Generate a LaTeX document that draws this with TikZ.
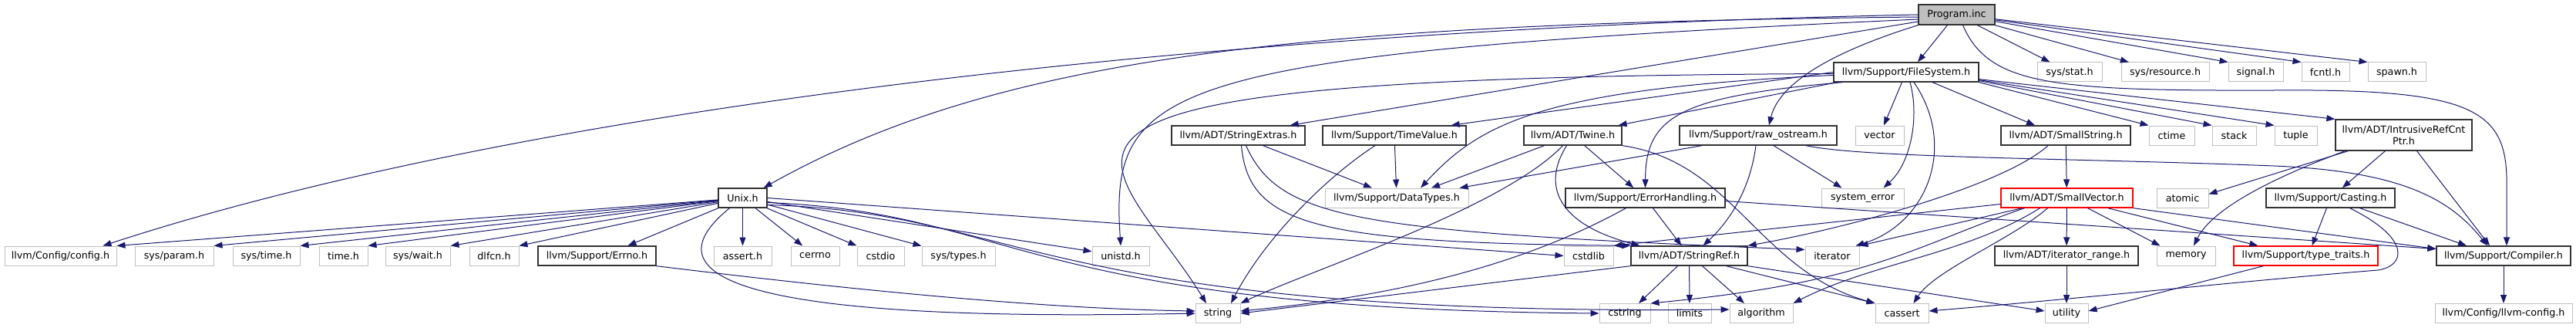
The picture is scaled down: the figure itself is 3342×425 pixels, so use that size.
\documentclass[tikz,border=0pt]{standalone}
\usepackage{fontspec}
\setmainfont{DejaVu Sans}
\usepackage{tikz}
\usetikzlibrary{arrows.meta}
\definecolor{edgeblue}{RGB}{25,25,112}
\definecolor{boxgray}{RGB}{191,191,191}

\begin{document}
\begin{tikzpicture}[x=1pt, y=-1pt, >={Triangle[length=11pt, width=8pt]},
  box/.style={rectangle, minimum height=25, inner sep=0pt, align=center, font=\fontsize{12.7}{15}\selectfont},
  ext/.style={box, draw=boxgray, line width=1pt},
  doc/.style={box, draw=black!80, line width=1.3pt},
  trunc/.style={box, draw=red, line width=1.3pt},
  root/.style={box, draw=black!80, fill=boxgray, line width=1.3pt, minimum height=26},
  dep/.style={->, draw=edgeblue, line width=1pt}]
  \useasboundingbox (0,0) rectangle (3342,425);

  \node[root, minimum width=99] (prog) at (2538.5,19) {Program.inc};

  \node[doc, minimum width=188] (fs) at (2473,93.5) {llvm/Support/FileSystem.h};
  \node[ext, minimum width=84] (sysstat) at (2685,93.5) {sys/stat.h};
  \node[ext, minimum width=114] (sysres) at (2809,93.5) {sys/resource.h};
  \node[ext, minimum width=71] (signal) at (2926.5,93.5) {signal.h};
  \node[ext, minimum width=62] (fcntl) at (3017,93.5) {fcntl.h};
  \node[ext, minimum width=75] (spawn) at (3109.5,93.5) {spawn.h};

  \node[doc, minimum width=173] (strext) at (1606.5,175.5) {llvm/ADT/StringExtras.h};
  \node[doc, minimum width=186] (timeval) at (1809,175.5) {llvm/Support/TimeValue.h};
  \node[doc, minimum width=127] (twine) at (2040.5,175.5) {llvm/ADT/Twine.h};
  \node[doc, minimum width=204] (rawos) at (2281,175.5) {llvm/Support/raw\_ostream.h};
  \node[ext, minimum width=63] (vector) at (2438.5,175.5) {vector};
  \node[doc, minimum width=168] (smallstr) at (2680,175.5) {llvm/ADT/SmallString.h};
  \node[ext, minimum width=59] (ctime) at (2817.5,175.5) {ctime};
  \node[ext, minimum width=57] (stack) at (2898.5,175.5) {stack};
  \node[ext, minimum width=55] (tuple) at (2978.5,175.5) {tuple};
  \node[doc, minimum width=177, minimum height=40] (irc) at (3118.5,175) {llvm/ADT/IntrusiveRefCnt\\Ptr.h};

  \node[doc, minimum width=63] (unixh) at (963.5,256.5) {Unix.h};
  \node[ext, minimum width=186] (datatypes) at (1812,256.5) {llvm/Support/DataTypes.h};
  \node[doc, minimum width=207] (errh) at (2134.5,256.5) {llvm/Support/ErrorHandling.h};
  \node[ext, minimum width=107] (syserr) at (2416.5,256.5) {system\_error};
  \node[trunc, minimum width=171] (smallvec) at (2681.5,256.5) {llvm/ADT/SmallVector.h};
  \node[ext, minimum width=67] (atomic) at (2831.5,256.5) {atomic};
  \node[doc, minimum width=167] (casting) at (3023.5,256.5) {llvm/Support/Casting.h};

  \node[ext, minimum width=145] (config) at (78.5,331.5) {llvm/Config/config.h};
  \node[ext, minimum width=102] (param) at (226,331.5) {sys/param.h};
  \node[ext, minimum width=87] (systime) at (345.5,331.5) {sys/time.h};
  \node[ext, minimum width=63] (timeh) at (445.5,331.5) {time.h};
  \node[ext, minimum width=84] (wait) at (542,331.5) {sys/wait.h};
  \node[ext, minimum width=64] (dlfcn) at (641,331.5) {dlfcn.h};
  \node[doc, minimum width=153] (errno) at (774.5,331.5) {llvm/Support/Errno.h};
  \node[ext, minimum width=75] (asserth) at (963.5,331.5) {assert.h};
  \node[ext, minimum width=63] (cerrno) at (1057.5,331.5) {cerrno};
  \node[ext, minimum width=61] (cstdio) at (1142.5,331.5) {cstdio};
  \node[ext, minimum width=95] (systypes) at (1243.5,331.5) {sys/types.h};
  \node[ext, minimum width=74] (unistd) at (1454,331.5) {unistd.h};
  \node[ext, minimum width=64] (cstdlib) at (2061,331.5) {cstdlib};
  \node[doc, minimum width=151] (strref) at (2191.5,331.5) {llvm/ADT/StringRef.h};
  \node[ext, minimum width=70] (iterator) at (2377,331.5) {iterator};
  \node[doc, minimum width=186] (itrange) at (2681,331.5) {llvm/ADT/iterator\_range.h};
  \node[ext, minimum width=76] (memory) at (2836,331.5) {memory};
  \node[trunc, minimum width=187] (typetr) at (2991.5,331.5) {llvm/Support/type\_traits.h};
  \node[doc, minimum width=174] (compiler) at (3248,331.5) {llvm/Support/Compiler.h};

  \node[ext, minimum width=58] (string) at (1580,406) {string};
  \node[ext, minimum width=66] (cstring) at (2108,406) {cstring};
  \node[ext, minimum width=56] (limits) at (2192,406) {limits};
  \node[ext, minimum width=82] (algorithm) at (2285,406) {algorithm};
  \node[ext, minimum width=69] (cassert) at (2467.5,406) {cassert};
  \node[ext, minimum width=56] (utility) at (2681,406) {utility};
  \node[ext, minimum width=178] (llvmcfg) at (3248,406) {llvm/Config/llvm-config.h};

  \draw[dep] (prog.west) .. controls (1500,40) and (650,150) .. ([xshift=55pt]config.north);
  \draw[dep] ([yshift=-3pt]prog.west) .. controls (1700,30) and (1300,70) .. ([xshift=-5pt]unixh.north east);
  \draw[dep] ([yshift=-6pt]prog.west) .. controls (1500,70) and (1440,110) .. (unistd.north);
  \draw[dep] ([yshift=-9pt]prog.west) -- ([xshift=-20pt]strext.north east);
  \draw[dep] ([xshift=-12pt]prog.south) -- ([xshift=15pt]fs.north);
  \draw[dep] (prog.south west) .. controls (2400,60) and (2310,100) .. ([xshift=14pt]rawos.north);
  \draw[dep] (prog) -- (sysstat);
  \draw[dep] (prog) -- (sysres);
  \draw[dep] (prog) -- (signal.north west);
  \draw[dep] (prog) -- (fcntl.north west);
  \draw[dep] (prog) -- (spawn.north west);
  \draw[dep] ([xshift=8pt]prog.south) .. controls (2580,110) and (2660,118) .. (2950,117)
    .. controls (3200,115) and (3250,140) .. (3252,230) -- ([xshift=4pt]compiler.north);

  \draw[dep] (unixh) -- (config.north east);
  \draw[dep] (unixh) -- (param.north east);
  \draw[dep] (unixh) -- (systime.north east);
  \draw[dep] (unixh) -- (timeh.north east);
  \draw[dep] (unixh) -- (wait.north east);
  \draw[dep] (unixh) -- (dlfcn.north east);
  \draw[dep] (unixh) -- ([xshift=40pt]errno.north);
  \draw[dep] (unixh) -- (asserth);
  \draw[dep] (unixh) -- (cerrno);
  \draw[dep] (unixh) -- (cstdio);
  \draw[dep] (unixh) -- (systypes);
  \draw[dep] (unixh) -- (unistd);
  \draw[dep] (unixh.east) -- (cstdlib.west);
  \draw[dep] ([xshift=-17pt]unixh.south) .. controls (860,340) and (880,420) .. (string.west);
  \draw[dep] ([yshift=-6pt]unixh.east) .. controls (1320,275) and (1320,400) .. (cstring.west);
  \draw[dep] ([yshift=-9pt]unixh.east) .. controls (1330,275) and (1340,410) .. ([yshift=5pt]algorithm.west);
  \draw[dep] (errno.south east) .. controls (1100,375) and (1350,400) .. ([yshift=3pt]string.west);

  \draw[dep] ([xshift=5pt]fs.south west) -- ([xshift=-5pt]twine.north east);
  \draw[dep] (fs.west) -- ([xshift=-20pt]timeval.north east);
  \draw[dep] ([yshift=-4pt]fs.west) .. controls (2000,115) and (1920,160) .. ([xshift=31pt]datatypes.north);
  \draw[dep] ([yshift=-2pt]fs.west) .. controls (1200,100) and (1440,190) .. ([xshift=-15pt]string.north);
  \draw[dep] ([xshift=12pt]fs.south west) .. controls (2180,125) and (2135,150) .. (errh.north);
  \draw[dep] (fs) -- (vector);
  \draw[dep] ([xshift=5pt]fs.south) .. controls (2490,150) and (2480,210) .. ([xshift=27pt]syserr.north);
  \draw[dep] ([xshift=10pt]fs.south) .. controls (2540,190) and (2500,290) .. ([xshift=-5pt]iterator.north east);
  \draw[dep] ([xshift=34pt]fs.south) -- ([xshift=-40pt]smallstr.north);
  \draw[dep] (fs.south east) -- (ctime.north west);
  \draw[dep] ([yshift=2pt]fs.south east) -- (stack.north west);
  \draw[dep] ([yshift=3pt]fs.south east) -- (tuple.north west);
  \draw[dep] ([yshift=4pt]fs.south east) -- (irc.north west);

  \draw[dep] ([xshift=32pt]strext.south) -- ([xshift=-32pt]datatypes.north);
  \draw[dep] ([xshift=4pt]strext.south) .. controls (1620,290) and (1700,315) .. (strref.north west);
  \draw[dep] ([xshift=10pt]strext.south) .. controls (1660,285) and (1760,300) .. ([yshift=8pt]iterator.west);

  \draw[dep] (timeval) -- (datatypes);
  \draw[dep] ([xshift=-25pt]timeval.south) .. controls (1720,230) and (1640,310) .. ([xshift=17pt]string.north);

  \draw[dep] ([xshift=-37pt]twine.south) -- ([xshift=45pt]datatypes.north);
  \draw[dep] (twine) -- (errh);
  \draw[dep] ([xshift=-13pt]twine.south) .. controls (1950,270) and (1700,350) .. (string.north east);
  \draw[dep] ([xshift=-8pt]twine.south) .. controls (2000,240) and (2020,290) .. ([xshift=12pt]strref.north west);
  \draw[dep] (twine.south east) .. controls (2250,210) and (2280,350) .. (cassert.north west);

  \draw[dep] ([xshift=-73pt]rawos.south) -- ([xshift=-12pt]datatypes.north east);
  \draw[dep] ([xshift=20pt]rawos.south) -- ([xshift=-27pt]syserr.north);
  \draw[dep] ([xshift=-3pt]rawos.south) .. controls (2270,250) and (2240,290) .. ([xshift=18pt]strref.north);
  \draw[dep] ([xshift=62pt]rawos.south) .. controls (2420,205) and (2700,205) .. (2950,215)
    .. controls (3120,222) and (3180,260) .. ([xshift=-21pt]compiler.north);

  \draw[dep] (errh) -- (strref);
  \draw[dep] ([xshift=-25pt]errh.south) .. controls (2000,330) and (1850,380) .. ([yshift=3pt]string.east);
  \draw[dep] ([yshift=-4pt]errh.east) -- ([yshift=9pt]compiler.west);

  \draw[dep] (smallstr) -- (smallvec);
  \draw[dep] ([xshift=-23pt]smallstr.south) .. controls (2600,240) and (2400,295) .. (strref.north east);

  \draw[dep] ([xshift=17pt]irc.south west) -- ([yshift=5pt]atomic.east);
  \draw[dep] ([xshift=13pt]irc.south west) .. controls (2950,230) and (2870,270) .. ([xshift=10pt]memory.north);
  \draw[dep] (irc) -- (casting);
  \draw[dep] ([xshift=17pt]irc.south) -- ([xshift=-18pt]compiler.north);

  \draw[dep] ([xshift=-5pt]casting.south) -- ([xshift=8pt]typetr.north);
  \draw[dep] ([xshift=38pt]casting.south) -- ([xshift=-48pt]compiler.north);
  \draw[dep] ([xshift=25pt]casting.south) .. controls (3130,310) and (3120,345) .. (3085,350)
    .. controls (2900,365) and (2720,385) .. ([yshift=3pt]cassert.east);

  \draw[dep] ([yshift=-8pt]smallvec.west) -- (cstdlib.north east);
  \draw[dep] ([xshift=-58pt]smallvec.south) -- (iterator.north east);
  \draw[dep] ([xshift=-55pt]smallvec.south) .. controls (2480,320) and (2430,365) .. (cstring.north east);
  \draw[dep] ([xshift=-35pt]smallvec.south) .. controls (2550,330) and (2430,340) .. (algorithm.north east);
  \draw[dep] ([xshift=-25pt]smallvec.south) .. controls (2610,310) and (2510,350) .. ([xshift=15pt]cassert.north);
  \draw[dep] (smallvec) -- (itrange);
  \draw[dep] ([xshift=27pt]smallvec.south) -- ([xshift=5pt]memory.north west);
  \draw[dep] ([xshift=53pt]smallvec.south) -- ([xshift=32pt]typetr.north west);
  \draw[dep] (smallvec.south east) -- ([yshift=9pt]compiler.west);

  \draw[dep] ([xshift=-15pt]strref.south) -- ([xshift=18pt]cstring.north);
  \draw[dep] (strref) -- (limits);
  \draw[dep] ([xshift=17pt]strref.south) -- ([xshift=-22pt]algorithm.north);
  \draw[dep] ([xshift=48pt]strref.south) -- (cassert.north west);
  \draw[dep] (strref.south east) -- ([yshift=3pt]utility.west);
  \draw[dep] (strref.south west) -- (string.east);

  \draw[dep] (itrange) -- (utility);
  \draw[dep] ([xshift=-55pt]typetr.south) -- ([yshift=3pt]utility.east);
  \draw[dep] (compiler) -- (llvmcfg);
\end{tikzpicture}
\end{document}
